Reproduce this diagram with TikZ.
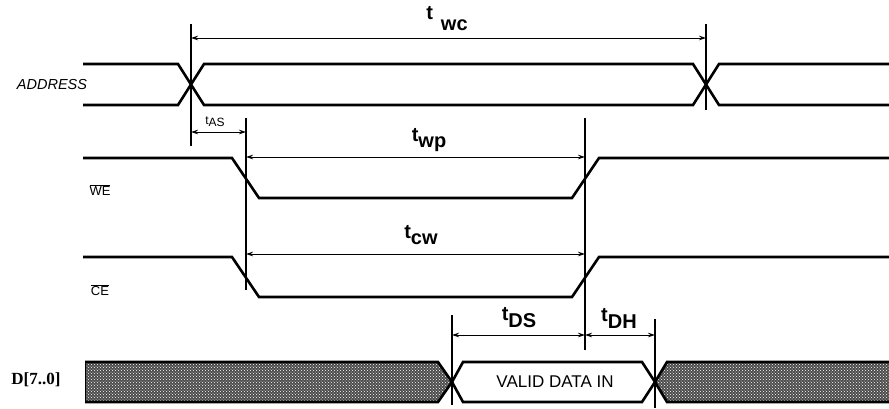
\documentclass[tikz,border=0pt]{standalone}
\usepackage{fontspec}
\setsansfont{Liberation Sans}
\setmainfont{Liberation Serif}
\usetikzlibrary{arrows.meta,patterns}
\newcommand{\tname}[2]{t\raisebox{-#1}{#2}}
\tikzset{
  tsig/.style={line width=2.6pt, line join=miter},
  tmark/.style={line width=1.1pt},
  tdim/.style={{Stealth[length=7pt,width=4.5pt]}-{Stealth[length=7pt,width=4.5pt]}, line width=0.8pt},
  tlabel/.style={font=\sffamily\bfseries\fontsize{20}{20}\selectfont, inner sep=0pt},
  siglabel/.style={font=\sffamily\fontsize{13}{13}\selectfont, inner sep=0pt},
  tbus/.style={fill=black!70, postaction={pattern=crosshatch dots, pattern color=white}}
}

\begin{document}
\begin{tikzpicture}[x=1pt, y=-1pt]
  \useasboundingbox (0,0) rectangle (889,408);
  % signal names
  \node[siglabel, font=\sffamily\itshape\fontsize{14.5}{14.5}\selectfont] (addr) at (52,85) {ADDRESS};
  \node[siglabel] (we) at (100,190) {$\overline{\mbox{WE}}$};
  \node[siglabel] (ce) at (100,290) {$\overline{\mbox{CE}}$};
  \node[siglabel, font=\rmfamily\bfseries\fontsize{17}{17}\selectfont] (data) at (36,380) {D[7..0]};
  % waveforms
  \draw[tsig] (83,64) -- (178,64) -- (204,105) -- (693,105) -- (719,64) -- (889,64);
  \draw[tsig] (83,105) -- (178,105) -- (204,64) -- (693,64) -- (719,105) -- (889,105);
  \draw[tsig] (83,158) -- (232,158) -- (259,198) -- (572,198) -- (599,158) -- (889,158);
  \draw[tsig] (83,257) -- (232,257) -- (259,297) -- (572,297) -- (599,257) -- (889,257);
  \fill[tbus] (85,362) -- (438,362) -- (452,382) -- (438,402) -- (85,402) -- cycle;
  \fill[tbus] (889,362) -- (667,362) -- (655,382) -- (667,402) -- (889,402) -- cycle;
  \draw[tsig] (85,362) -- (438,362) -- (452,382) -- (463,362) -- (642,362) -- (655,382) -- (667,362) -- (889,362);
  \draw[tsig] (85,402) -- (438,402) -- (452,382) -- (463,402) -- (642,402) -- (655,382) -- (667,402) -- (889,402);
  \draw[line width=0.8pt] (85,362) -- (85,402);
  \node[siglabel, font=\sffamily\fontsize{17}{17}\selectfont] (valid) at (555,382) {VALID DATA IN};
  % time marks
  \coordinate (wcL) at (191,38);  \coordinate (wcR) at (706,38);
  \coordinate (asL) at (191,132); \coordinate (asR) at (246,132);
  \coordinate (wpL) at (246,157); \coordinate (wpR) at (585,157);
  \coordinate (cwL) at (246,254); \coordinate (cwR) at (585,254);
  \coordinate (dsL) at (452,335); \coordinate (dsR) at (585,335);
  \coordinate (dhR) at (655,335);
  \draw[tmark] (191,24) -- (191,146);
  \draw[tmark] (706,24) -- (706,110);
  \draw[tmark] (246,118) -- (246,290);
  \draw[tmark] (585,118) -- (585,350);
  \draw[tmark] (452,315) -- (452,405);
  \draw[tmark] (655,319) -- (655,408);
  % dimensions
  \draw[tdim] (wcL) -- (wcR);
  \draw[tdim] (asL) -- (asR);
  \draw[tdim] (wpL) -- (wpR);
  \draw[tdim] (cwL) -- (cwR);
  \draw[tdim] (dsL) -- (dsR);
  \draw[tdim] (dsR) -- (dhR);
  \node[tlabel] (twc) at (447,19) {\tname{11pt}{\hspace{8pt}wc}};
  \node[tlabel, font=\sffamily\fontsize{12}{12}\selectfont] (tas) at (215,122) {\tname{2pt}{AS}};
  \node[tlabel] (twp) at (429,140) {\tname{6pt}{wp}};
  \node[tlabel] (tcw) at (421,235) {\tname{6pt}{cw}};
  \node[tlabel] (tds) at (519,318) {\tname{7pt}{DS}};
  \node[tlabel] (tdh) at (619,318) {\tname{7pt}{DH}};
\end{tikzpicture}
\end{document}
